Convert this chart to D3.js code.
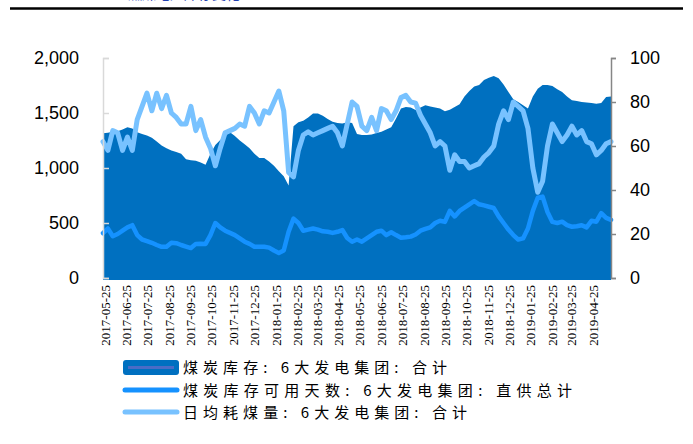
<!DOCTYPE html>
<html>
<head>
<meta charset="utf-8">
<script src="https://cdn.jsdelivr.net/npm/d3@7"></script>
<style>
  body { margin: 0; background: #fff; }
  svg { display: block; }
</style>
</head>
<body>
<script>
var width = 693,
    height = 444;

// weekly samples, 2017-05-22 .. 2019-05-20
var dates = d3.timeDay.range(new Date(2017, 4, 22), new Date(2019, 4, 21), 7);

// 煤炭库存: 6大发电集团: 合计 (万吨, left axis)
var stock = [1315, 1320, 1330, 1335, 1350, 1370, 1360, 1325, 1310, 1295, 1275, 1240, 1205, 1180, 1160,
  1145, 1130, 1080, 1070, 1066, 1050, 1030, 1130, 1210, 1255, 1290, 1325, 1290, 1250, 1215,
  1180, 1130, 1090, 1090, 1060, 1020, 970, 925, 840, 1380, 1415, 1430, 1460, 1495, 1495,
  1475, 1445, 1420, 1410, 1405, 1415, 1410, 1310, 1300, 1300, 1305, 1318, 1330, 1350, 1370,
  1450, 1540, 1555, 1550, 1527, 1550, 1570, 1560, 1550, 1540, 1515, 1530, 1555, 1580, 1650,
  1700, 1740, 1755, 1800, 1820, 1836, 1815, 1760, 1690, 1625, 1600, 1570, 1540, 1650, 1720,
  1755, 1755, 1745, 1715, 1690, 1650, 1615, 1610, 1600, 1595, 1590, 1585, 1590, 1645, 1650];

// 煤炭库存可用天数: 6大发电集团: 直供总计 (天, right axis)
var days = [20.4, 22.5, 19, 20, 21.5, 23, 24, 19.5, 17.5, 16.8, 16, 15, 14.2, 14.2, 16,
  15.8, 15, 14.3, 13.6, 15.5, 15.6, 15.5, 19.5, 25, 23, 21.5, 20.5, 19.5, 18, 16.5,
  15.5, 14.2, 14.2, 14.2, 13.8, 12.5, 11.4, 12.5, 21, 27, 25, 21.5, 22, 22.5, 22,
  21.2, 21, 20.5, 21, 21.8, 18.2, 16.5, 17.5, 16.5, 18, 19.5, 21, 21.5, 19.5, 20.8,
  19.5, 18.3, 18.5, 18.8, 19.8, 21.5, 22.3, 23, 25, 26, 25.5, 30.5, 28, 30.5, 32,
  33.5, 35, 33.5, 33, 32.4, 31.8, 28, 25, 22, 19.5, 17.5, 18, 22.5, 30.5, 36.5,
  37, 30, 25.5, 25, 25.6, 24, 23.3, 23.5, 24, 23, 26, 25.6, 29.5, 27.3, 26.4];

// 日均耗煤量: 6大发电集团: 合计 (万吨, right axis)
var burn = [62, 58, 67, 66, 58, 64, 58, 72, 78, 84, 76, 84, 77, 83, 75,
  73, 70, 70, 78, 67, 72, 64, 59, 51, 59, 66, 67, 68, 70, 69,
  78, 75, 70, 76, 75, 80, 85, 76, 48, 46, 58, 65, 66.5, 65, 66,
  67, 68, 69, 66, 60, 70, 80, 78, 69, 67, 73, 67, 77, 76, 72,
  76, 82, 83, 80, 79.5, 74, 70, 66, 60, 62, 60, 49, 56, 53, 53,
  50, 51, 52, 55, 57, 60, 70, 76, 72, 80, 78, 76, 68, 50, 39,
  44, 60, 70, 66, 62, 65, 69, 65, 67, 62, 61, 56, 58, 61, 62];

var tickLabels = ["2017-05-25", "2017-06-25", "2017-07-25", "2017-08-25", "2017-09-25", "2017-10-25",
  "2017-11-25", "2017-12-25", "2018-01-25", "2018-02-25", "2018-03-25", "2018-04-25",
  "2018-05-25", "2018-06-25", "2018-07-25", "2018-08-25", "2018-09-25", "2018-10-25",
  "2018-11-25", "2018-12-25", "2019-01-25", "2019-02-25", "2019-03-25", "2019-04-25"];
var leftTicks = [0, 500, 1000, 1500, 2000];
var rightTicks = [0, 20, 40, 60, 80, 100];

var seriesNames = ["煤炭库存: 6大发电集团: 合计", "煤炭库存可用天数: 6大发电集团: 直供总计", "日均耗煤量: 6大发电集团: 合计"];
var colors = ["#0070c0", "#1592ff", "#78c2ff"];

var parse = d3.timeParse("%Y-%m-%d");

var svg = d3.select("body").append("svg")
    .attr("width", width)
    .attr("height", height);

var x = d3.scaleTime()
    .domain([dates[0], dates[dates.length - 1]])
    .range([103, 611]);

var yL = d3.scaleLinear().domain([0, 2000]).range([278, 58]);
var yR = d3.scaleLinear().domain([0, 100]).range([278, 58]);

// header rule and the cut-off title above it
svg.append("text")
    .attr("x", 128).attr("y", -1.5)
    .attr("font-family", "Noto Sans CJK SC")
    .attr("font-size", 14)
    .attr("fill", "#1f3fb0")
    .text("燃煤电厂库存变化");
svg.append("line")
    .attr("x1", 10).attr("x2", 683)
    .attr("y1", 8.5).attr("y2", 8.5)
    .attr("stroke", "#000").attr("stroke-width", 2.5);

// area: stock
var area = d3.area()
    .x(function(d, i) { return x(dates[i]); })
    .y0(yL(0))
    .y1(function(d) { return yL(d); });

svg.append("path")
    .datum(stock)
    .attr("d", area)
    .attr("fill", colors[0]);

// x axis line
svg.append("line")
    .attr("x1", 103).attr("x2", 611)
    .attr("y1", 279).attr("y2", 279)
    .attr("stroke", colors[0]).attr("stroke-width", 2);

var line = function(yScale) {
  return d3.line()
    .x(function(d, i) { return x(dates[i]); })
    .y(function(d) { return yScale(d); });
};

svg.append("path")
    .datum(days)
    .attr("d", line(yR))
    .attr("fill", "none")
    .attr("stroke", colors[1])
    .attr("stroke-width", 4.5)
    .attr("stroke-linejoin", "round")
    .attr("stroke-linecap", "round");

svg.append("path")
    .datum(burn)
    .attr("d", line(yR))
    .attr("fill", "none")
    .attr("stroke", colors[2])
    .attr("stroke-width", 5)
    .attr("stroke-linejoin", "round")
    .attr("stroke-linecap", "round");

// left axis
var gl = svg.append("g").attr("transform", "translate(103,0)");
gl.call(d3.axisRight(yL).tickValues(leftTicks).tickSize(6).tickFormat(""));
gl.select(".domain").attr("stroke", "#d9d9d9").attr("stroke-width", 1.5);
gl.selectAll(".tick line").attr("stroke", "#d9d9d9").attr("stroke-width", 1.5);
gl.selectAll(".leftlab")
  .data(leftTicks)
  .enter().append("text")
    .attr("x", -24)
    .attr("y", function(d) { return yL(d); })
    .attr("dy", "0.36em")
    .attr("text-anchor", "end")
    .attr("font-family", "Liberation Sans, Arial, sans-serif")
    .attr("font-size", 18)
    .attr("fill", "#000")
    .text(d3.format(","));

// right axis
var gr = svg.append("g").attr("transform", "translate(611,0)");
gr.call(d3.axisRight(yR).tickValues(rightTicks).tickSize(5).tickPadding(14));
gr.select(".domain").attr("stroke", "#868686").attr("stroke-width", 1.5);
gr.selectAll(".tick line").attr("stroke", "#868686").attr("stroke-width", 1.5);
gr.selectAll(".tick text")
    .attr("font-family", "Liberation Sans, Arial, sans-serif")
    .attr("font-size", 18)
    .attr("fill", "#000");

// x tick labels
svg.append("g").selectAll("text")
  .data(tickLabels)
  .enter().append("text")
    .attr("transform", function(d) { return "translate(" + x(parse(d)) + ",285) rotate(-90)"; })
    .attr("dy", "0.35em")
    .attr("text-anchor", "end")
    .attr("font-family", "Liberation Serif, Times New Roman, serif")
    .attr("font-size", 13)
    .attr("fill", "#000")
    .text(function(d) { return d; });

// legend
var lg = svg.append("g");
lg.append("rect")
    .attr("x", 123).attr("y", 360).attr("width", 56).attr("height", 15).attr("rx", 3)
    .attr("fill", colors[0]);
lg.append("line")
    .attr("x1", 128).attr("x2", 174).attr("y1", 367.5).attr("y2", 367.5)
    .attr("stroke", "#4a6cc6").attr("stroke-width", 3);
lg.append("line")
    .attr("x1", 125).attr("x2", 177).attr("y1", 390).attr("y2", 390)
    .attr("stroke", colors[1]).attr("stroke-width", 5).attr("stroke-linecap", "round");
lg.append("line")
    .attr("x1", 125).attr("x2", 177).attr("y1", 412).attr("y2", 412)
    .attr("stroke", colors[2]).attr("stroke-width", 5).attr("stroke-linecap", "round");

// widths stretched to the spread-out look of the original legend font
var legendWidths = [264, 389, 284];
lg.selectAll(".lt")
  .data(seriesNames)
  .enter().append("text")
    .attr("x", 183)
    .attr("y", function(d, i) { return [373, 395.5, 418][i]; })
    .attr("font-family", "Noto Sans CJK SC")
    .attr("font-size", 15)
    .attr("fill", "#000")
    .attr("textLength", function(d, i) { return legendWidths[i]; })
    .attr("lengthAdjust", "spacing")
    .text(function(d) { return d; });
</script>
</body>
</html>
